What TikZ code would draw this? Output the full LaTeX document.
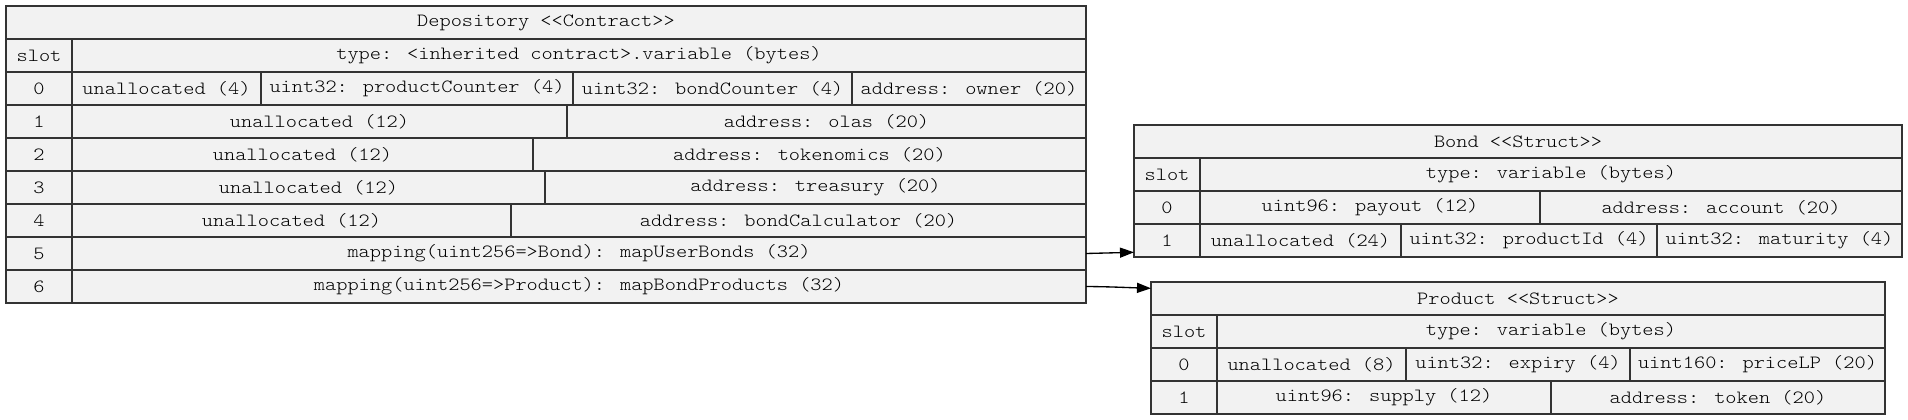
\documentclass[tikz,border=0pt]{standalone}
\usepackage{fontspec}
\newfontfamily\courlike{Latin Modern Mono Light}[FakeStretch=1.143]
\usetikzlibrary{arrows.meta}
\definecolor{cellfill}{HTML}{F2F2F2}
\definecolor{ink}{HTML}{333333}
\tikzset{
  cell/.style={draw=ink, fill=cellfill, line width=1pt, inner sep=0pt, outer sep=0pt,
    anchor=north west, text=black, font=\courlike\fontsize{14}{16}\selectfont},
  conn/.style={draw=black, line width=1pt, -{Triangle[length=10.5pt,width=7.5pt]}}
}
\newcommand\cellat[6]{\node[cell, minimum width={(#4-#2)*0.75pt}, minimum height={(#5-#3)*0.75pt}] (#1) at (#2,#3) {#6};}
\begin{document}
\begin{tikzpicture}[x=0.75pt, y=-0.75pt]
\useasboundingbox (0,0) rectangle (1908,420);
% Depository
\cellat{dt}{6}{6}{1086}{39}{Depository <<Contract>>}
\cellat{dhs}{6}{39}{72}{72}{slot}
\cellat{dht}{72}{39}{1086}{72}{type: <inherited contract>.variable (bytes)}
\cellat{d0s}{6}{72}{72}{105}{0}
\cellat{d0a}{72}{72}{261}{105}{unallocated (4)}
\cellat{d0b}{261}{72}{573}{105}{uint32: productCounter (4)}
\cellat{d0c}{573}{72}{852}{105}{uint32: bondCounter (4)}
\cellat{d0d}{852}{72}{1086}{105}{address: owner (20)}
\cellat{d1s}{6}{105}{72}{138}{1}
\cellat{d1a}{72}{105}{567}{138}{unallocated (12)}
\cellat{d1b}{567}{105}{1086}{138}{address: olas (20)}
\cellat{d2s}{6}{138}{72}{171}{2}
\cellat{d2a}{72}{138}{533}{171}{unallocated (12)}
\cellat{d2b}{533}{138}{1086}{171}{address: tokenomics (20)}
\cellat{d3s}{6}{171}{72}{204}{3}
\cellat{d3a}{72}{171}{545}{204}{unallocated (12)}
\cellat{d3b}{545}{171}{1086}{204}{address: treasury (20)}
\cellat{d4s}{6}{204}{72}{237}{4}
\cellat{d4a}{72}{204}{511}{237}{unallocated (12)}
\cellat{d4b}{511}{204}{1086}{237}{address: bondCalculator (20)}
\cellat{d5s}{6}{237}{72}{270}{5}
\cellat{d5a}{72}{237}{1086}{270}{mapping(uint256=>Bond): mapUserBonds (32)}
\cellat{d6s}{6}{270}{72}{303}{6}
\cellat{d6a}{72}{270}{1086}{303}{mapping(uint256=>Product): mapBondProducts (32)}
% Bond
\cellat{bt}{1134}{125}{1902}{158}{Bond <<Struct>>}
\cellat{bhs}{1134}{158}{1200}{191}{slot}
\cellat{bht}{1200}{158}{1902}{191}{type: variable (bytes)}
\cellat{b0s}{1134}{191}{1200}{224}{0}
\cellat{b0a}{1200}{191}{1540}{224}{uint96: payout (12)}
\cellat{b0b}{1540}{191}{1902}{224}{address: account (20)}
\cellat{b1s}{1134}{224}{1200}{257}{1}
\cellat{b1a}{1200}{224}{1401}{257}{unallocated (24)}
\cellat{b1b}{1401}{224}{1657}{257}{uint32: productId (4)}
\cellat{b1c}{1657}{224}{1902}{257}{uint32: maturity (4)}
% Product
\cellat{pt}{1151}{282}{1885}{315}{Product <<Struct>>}
\cellat{phs}{1151}{315}{1217}{348}{slot}
\cellat{pht}{1217}{315}{1885}{348}{type: variable (bytes)}
\cellat{p0s}{1151}{348}{1217}{381}{0}
\cellat{p0a}{1217}{348}{1406}{381}{unallocated (8)}
\cellat{p0b}{1406}{348}{1630}{381}{uint32: expiry (4)}
\cellat{p0c}{1630}{348}{1885}{381}{uint160: priceLP (20)}
\cellat{p1s}{1151}{381}{1217}{414}{1}
\cellat{p1a}{1217}{381}{1551}{414}{uint96: supply (12)}
\cellat{p1b}{1551}{381}{1885}{414}{address: token (20)}
% connectors
\coordinate (bin) at (1134,252.3);
\coordinate (pin) at (1151,288.3);
\draw[conn] (d5a.east) -- (bin);
\draw[conn] (d6a.east) .. controls (1110,286.7) and (1125,287.5) .. (pin);
\end{tikzpicture}
\end{document}
